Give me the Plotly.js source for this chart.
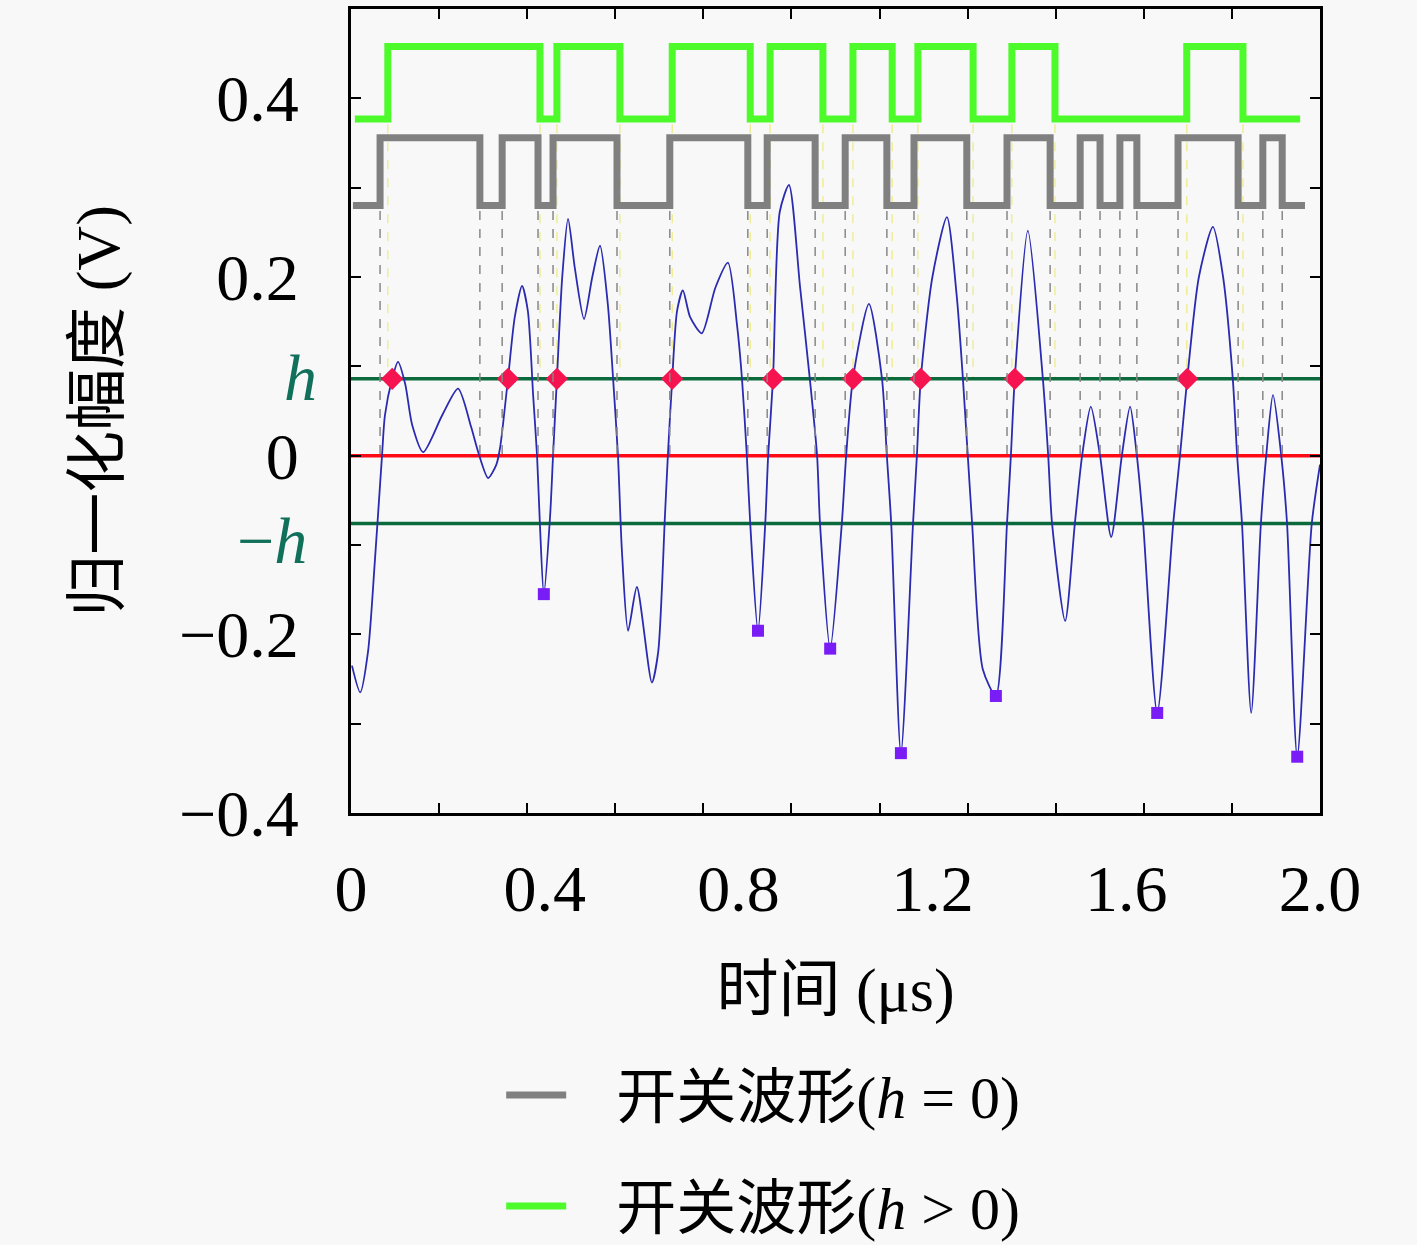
<!DOCTYPE html>
<html>
<head>
<meta charset="utf-8">
<script src="https://cdn.plot.ly/plotly-3.0.1.min.js"></script>
<style>
  body { margin: 0; background: #f8f8f8; }
</style>
</head>
<body>
<div id="switchplot" style="width:1417px;height:1245px;"></div>
<script>
// waveform samples (time in us, amplitude in V)
var waveT = [0.002, 0.019, 0.035, 0.049, 0.064, 0.070, 0.085, 0.097, 0.112, 0.126, 0.149, 0.188, 0.221, 0.248, 0.262, 0.283, 0.300, 0.308,
  0.324, 0.338, 0.353, 0.365, 0.376, 0.384, 0.390, 0.398, 0.411, 0.417, 0.425, 0.436, 0.448, 0.462, 0.481, 0.498, 0.514, 0.530,
  0.541, 0.551, 0.559, 0.572, 0.590, 0.621, 0.634, 0.648, 0.654, 0.663, 0.673, 0.685, 0.700, 0.724, 0.752, 0.778, 0.797, 0.807,
  0.817, 0.824, 0.840, 0.855, 0.861, 0.871, 0.885, 0.904, 0.927, 0.947, 0.962, 0.968, 0.989, 1.013, 1.022, 1.036, 1.069, 1.096,
  1.106, 1.115, 1.135, 1.160, 1.168, 1.176, 1.200, 1.230, 1.250, 1.263, 1.273, 1.282, 1.304, 1.331, 1.354, 1.362, 1.370, 1.397,
  1.428, 1.439, 1.447, 1.474, 1.494, 1.509, 1.527, 1.546, 1.569, 1.591, 1.608, 1.622, 1.635, 1.664, 1.697, 1.711, 1.726, 1.750,
  1.779, 1.800, 1.820, 1.829, 1.839, 1.858, 1.878, 1.889, 1.903, 1.920, 1.932, 1.953, 1.983, 2.000];
var waveV = [-0.235, -0.265, -0.22, -0.12, 0, 0.045, 0.086, 0.105, 0.08, 0.035, 0.004, 0.045, 0.075, 0.032, 0.005, -0.025, -0.01, 0.01,
  0.086, 0.155, 0.19, 0.162, 0.067, 0, -0.078, -0.155, -0.067, 0, 0.086, 0.2, 0.265, 0.21, 0.153, 0.2, 0.235, 0.17,
  0.086, 0, -0.105, -0.196, -0.147, -0.254, -0.22, -0.067, 0, 0.086, 0.162, 0.185, 0.155, 0.137, 0.188, 0.216, 0.145, 0.086,
  0, -0.076, -0.196, -0.076, 0, 0.086, 0.273, 0.303, 0.188, 0.086, 0, -0.076, -0.216, -0.076, 0, 0.086, 0.17, 0.086,
  0, -0.076, -0.333, -0.076, 0, 0.086, 0.2, 0.267, 0.18, 0.086, 0, -0.076, -0.239, -0.269, -0.076, 0, 0.086, 0.252,
  0.086, 0, -0.076, -0.185, -0.076, 0, 0.055, 0, -0.091, 0, 0.055, 0, -0.076, -0.288, -0.076, 0, 0.086, 0.2,
  0.256, 0.2, 0.086, 0, -0.076, -0.288, -0.076, 0, 0.068, 0, -0.076, -0.337, -0.076, -0.01];

// thresholds
var hLevel = 0.086;
var minusHLevel = -0.076;

// detected points
var crossT = [0.085, 0.324, 0.425, 0.663, 0.871, 1.036, 1.176, 1.370, 1.726];
var crossV = [0.086, 0.086, 0.086, 0.086, 0.086, 0.086, 0.086, 0.086, 0.086];
var minT = [0.398, 0.840, 0.989, 1.135, 1.331, 1.664, 1.953];
var minV = [-0.155, -0.196, -0.216, -0.333, -0.269, -0.288, -0.337];

// switching waveforms: edge times, start/end and levels
var grayEdges = [0.060, 0.266, 0.312, 0.386, 0.417, 0.549, 0.658, 0.819, 0.859, 0.958, 1.020, 1.106, 1.162, 1.271, 1.354, 1.443,
  1.505, 1.546, 1.587, 1.622, 1.707, 1.831, 1.882, 1.922];
var grayStart = 0.004, grayEnd = 1.969;
var grayLow = 0.280, grayHigh = 0.356;
var greenEdges = [0.076, 0.390, 0.425, 0.555, 0.663, 0.824, 0.865, 0.974, 1.036, 1.117, 1.170, 1.284, 1.364, 1.453, 1.725, 1.841];
var greenStart = 0.008, greenEnd = 1.959;
var greenLow = 0.377, greenHigh = 0.458;

// axis labels
var xTickVals = [0, 0.4, 0.8, 1.2, 1.6, 2.0];
var xTickText = ['0', '0.4', '0.8', '1.2', '1.6', '2.0'];
var xMinorVals = [0.182, 0.364, 0.545, 0.727, 0.909, 1.091, 1.273, 1.455, 1.636, 1.818];
var yTickVals = [-0.4, -0.3, -0.2, -0.1, 0, 0.1, 0.2, 0.3, 0.4];
var yTickText = ['\u22120.4', '', '\u22120.2', '', '0', '', '0.2', '', '0.4'];

function stepSeries(t0, t1, edges, lo, hi) {
  var xs = [t0], ys = [lo], level = lo;
  for (var i = 0; i < edges.length; i++) {
    level = (level === lo) ? hi : lo;
    xs.push(edges[i]);
    ys.push(level);
  }
  xs.push(t1);
  ys.push(level);
  return [xs, ys];
}

function vlines(edges, top, bottom) {
  var xs = [], ys = [];
  for (var i = 0; i < edges.length; i++) {
    xs.push(edges[i], edges[i], null);
    ys.push(top, bottom, null);
  }
  return [xs, ys];
}

var serif = "'Liberation Serif', 'Noto Sans CJK SC', serif";

var grayStep = stepSeries(grayStart, grayEnd, grayEdges, grayLow, grayHigh);
var greenStep = stepSeries(greenStart, greenEnd, greenEdges, greenLow, greenHigh);
var grayDash = vlines(grayEdges, grayLow - 0.006, 0);
var greenDash = vlines(greenEdges, greenLow - 0.006, hLevel);

var greenDashes = {
  x: greenDash[0], y: greenDash[1], mode: 'lines', showlegend: false, hoverinfo: 'skip',
  line: {color: 'rgba(236,232,120,0.8)', width: 1.4, dash: 'dash'}, type: 'scatter'};

var grayDashes = {
  x: grayDash[0], y: grayDash[1], mode: 'lines', showlegend: false, hoverinfo: 'skip', xaxis: 'x2',
  line: {color: '#888888', width: 1.5, dash: 'dash'}, type: 'scatter'};

var zeroLine = {
  x: [0, 2], y: [0, 0], mode: 'lines', showlegend: false,
  line: {color: '#ff0a14', width: 3.5}, type: 'scatter'};

var hLine = {
  x: [0, 2], y: [hLevel, hLevel], mode: 'lines', showlegend: false,
  line: {color: '#0b6a3c', width: 3.5}, type: 'scatter'};

var minusHLine = {
  x: [0, 2], y: [minusHLevel, minusHLevel], mode: 'lines', showlegend: false,
  line: {color: '#0b6a3c', width: 3.5}, type: 'scatter'};

var wave = {
  x: waveT, y: waveV, mode: 'lines', showlegend: false,
  line: {color: '#2b2bb0', width: 1.8, shape: 'spline', smoothing: 0.7}, type: 'scatter'};

var crossings = {
  x: crossT, y: crossV, mode: 'markers', showlegend: false,
  marker: {symbol: 'diamond', size: 17, color: '#f5144f'}, type: 'scatter'};

var minima = {
  x: minT, y: minV, mode: 'markers', showlegend: false,
  marker: {symbol: 'square', size: 12, color: '#7a1cf5'}, type: 'scatter'};

var grayWave = {
  x: grayStep[0], y: grayStep[1], mode: 'lines', name: '\u2002\u2005开关波形(<i>h</i>\u2005=\u20050)', legendgroup: 'g1',
  line: {color: '#808080', width: 7, shape: 'hv'}, type: 'scatter'};

var greenWave = {
  x: greenStep[0], y: greenStep[1], mode: 'lines', name: '\u2002\u2005开关波形(<i>h</i>\u2005>\u20050)', legendgroup: 'g2',
  line: {color: '#4dfa2a', width: 7, shape: 'hv'}, type: 'scatter'};

var data = [greenDashes, grayDashes, zeroLine, hLine, minusHLine, wave, crossings, minima, grayWave, greenWave];

var layout = {
  width: 1417, height: 1245,
  margin: {l: 351, r: 97, t: 9, b: 432, pad: 0, autoexpand: false},
  paper_bgcolor: '#f8f8f8', plot_bgcolor: '#f8f8f8',
  font: {family: serif, color: '#000'},
  xaxis: {range: [0, 2], tickvals: xTickVals, ticktext: xTickText, ticks: '',
    showline: true, mirror: true, linecolor: '#000', linewidth: 3, showgrid: false, zeroline: false,
    tickfont: {family: serif, size: 66}, ticklabelstandoff: 16,
    title: {text: '时间 (μs)', font: {family: serif, size: 62}, standoff: 44}},
  xaxis2: {range: [0, 2], overlaying: 'x', tickvals: xMinorVals, ticks: 'inside', ticklen: 10, tickwidth: 2,
    tickcolor: '#000', mirror: 'ticks', showline: false, showticklabels: false, showgrid: false, zeroline: false},
  yaxis: {range: [-0.4, 0.5], tickvals: yTickVals, ticktext: yTickText, ticks: 'inside', ticklen: 10, tickwidth: 2,
    tickcolor: '#000', showline: true, mirror: 'ticks', linecolor: '#000', linewidth: 3, showgrid: false, zeroline: false,
    tickfont: {family: serif, size: 66}, ticklabelstandoff: 36,
    title: {text: '归一化幅度 (V)', font: {family: serif, size: 62}, standoff: 40}},
  annotations: [
    {text: '<i>h</i>', xref: 'paper', yref: 'y', x: -0.052, y: 0.087, xanchor: 'center', yanchor: 'middle',
      showarrow: false, font: {family: serif, size: 66, color: '#10705a'}},
    {text: '\u2212<i>h</i>', xref: 'paper', yref: 'y', x: -0.082, y: -0.095, xanchor: 'center', yanchor: 'middle',
      showarrow: false, font: {family: serif, size: 66, color: '#10705a'}}
  ],
  showlegend: true,
  legend: {x: 0.155, y: -0.294, xanchor: 'left', yanchor: 'top', bgcolor: 'rgba(0,0,0,0)', itemwidth: 60,
    traceorder: 'grouped', tracegroupgap: 30, font: {family: serif, size: 60}}
};

Plotly.newPlot('switchplot', data, layout, {displayModeBar: false});
</script>
</body>
</html>
